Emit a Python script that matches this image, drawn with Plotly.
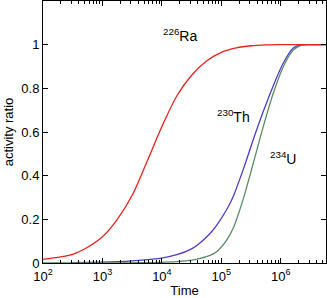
import plotly.graph_objects as go
import numpy as np

# time values (years) and activity ratios
ra_t = [100, 316, 562, 1000, 1778, 3162, 5623, 10000, 17783, 31623, 56234, 100000, 177828, 316228, 562341, 1000000, 5700000]
ra_y = [0.017, 0.04, 0.072, 0.12, 0.2, 0.31, 0.465, 0.625, 0.765, 0.86, 0.925, 0.965, 0.985, 0.995, 0.999, 1.0, 1.0]

th_t = [300, 1000, 3162, 9300, 17783, 31600, 43650, 64600, 83180, 123000, 158500, 234400, 338800, 501200, 741300, 1096000, 1622000, 2089000, 3000000, 5700000]
th_y = [0.002, 0.004, 0.01, 0.021, 0.038, 0.065, 0.092, 0.135, 0.172, 0.245, 0.305, 0.43, 0.56, 0.69, 0.81, 0.915, 0.985, 0.998, 1.0, 1.0]

u_t = [100, 1000, 9300, 17783, 33700, 43650, 64600, 83180, 123000, 158500, 234400, 338800, 501200, 741300, 1096000, 1622000, 2239000, 3000000, 5700000]
u_y = [0.0, 0.0, 0.003, 0.006, 0.014, 0.021, 0.035, 0.052, 0.105, 0.16, 0.295, 0.45, 0.62, 0.775, 0.898, 0.975, 0.998, 1.0, 1.0]

x_tickvals = [1e2, 1e3, 1e4, 1e5, 1e6]
x_ticktext = ["10<sup>2</sup>", "10<sup>3</sup>", "10<sup>4</sup>", "10<sup>5</sup>", "10<sup>6</sup>"]
y_tickvals = [0, 0.2, 0.4, 0.6, 0.8, 1]
y_ticktext = ["0", "0.2", "0.4", "0.6", "0.8", "1"]

labels = ["<sup>226</sup>Ra", "<sup>230</sup>Th", "<sup>234</sup>U"]
label_x = [2e4, 1.6e5, 1.07e6]
label_y = [1.045, 0.675, 0.48]

fig = go.Figure()
fig.add_trace(go.Scatter(x=th_t, y=th_y, mode="lines", line=dict(color="#4a3ccc", width=1.3, shape="spline", smoothing=0.8)))
fig.add_trace(go.Scatter(x=u_t, y=u_y, mode="lines", line=dict(color="#5a8c62", width=1.3, shape="spline", smoothing=0.8)))
fig.add_trace(go.Scatter(x=ra_t, y=ra_y, mode="lines", line=dict(color="#e8221a", width=1.3, shape="spline", smoothing=0.8)))

for t, xx, yy in zip(labels, label_x, label_y):
    fig.add_annotation(x=np.log10(xx), y=yy, text=t, showarrow=False,
                       font=dict(family="Liberation Sans, Arial", size=14, color="black"))

fig.update_layout(
    width=327, height=298,
    margin=dict(l=43, r=1, t=1, b=35),
    paper_bgcolor="white", plot_bgcolor="white",
    showlegend=False,
    font=dict(family="Liberation Sans, Arial", size=13, color="black"),
    xaxis=dict(type="log", range=[2, 6.76], tickvals=x_tickvals, ticktext=x_ticktext,
               ticks="inside", ticklen=5, tickcolor="black", showline=True, linecolor="black",
               linewidth=1, mirror="allticks", showgrid=False, zeroline=False,
               ticklabelstandoff=1,
               minor=dict(ticks="inside", ticklen=3, tickcolor="black", showgrid=False,
                          tickvals=[m * 10 ** d for d in range(2, 7) for m in range(2, 10)]),
               title=dict(text="Time", standoff=0, font=dict(size=13))),
    yaxis=dict(range=[0, 1.2], tickvals=y_tickvals, ticktext=y_ticktext,
               ticks="inside", ticklen=5, tickcolor="black", showline=True, linecolor="black",
               linewidth=1, mirror="allticks", showgrid=False, zeroline=False,
               title=dict(text="activity ratio", standoff=4, font=dict(size=13))),
)

fig.write_html("out.html", config={"displayModeBar": False},
               post_script="document.body.style.margin='0';document.body.style.overflow='hidden';")
